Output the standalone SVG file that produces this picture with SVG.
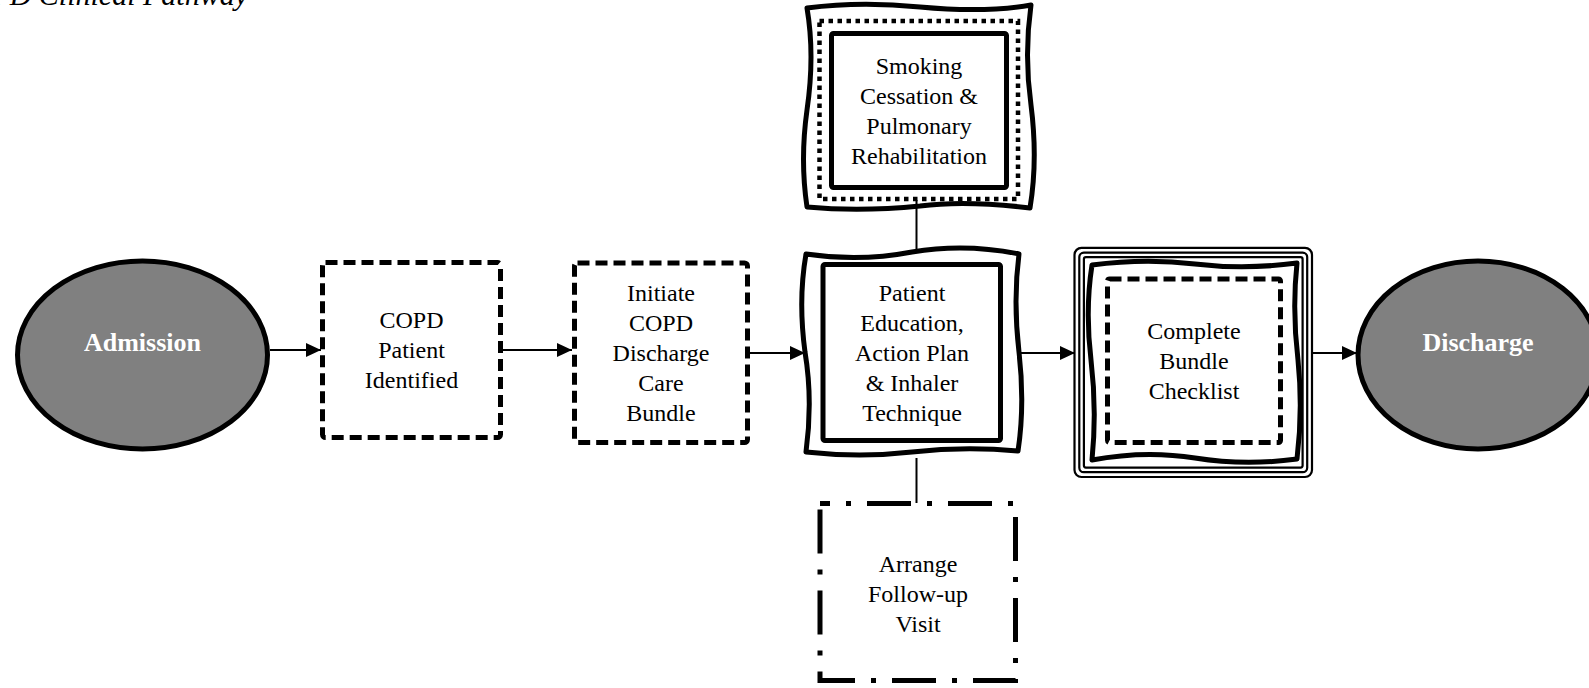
<svg xmlns="http://www.w3.org/2000/svg" width="1589" height="688" viewBox="0 0 1589 688">
<defs>
<style>
.lbl{font-family:"Liberation Serif","Times New Roman",serif;font-size:24px;fill:#000;text-anchor:middle}
.term{font-family:"Liberation Serif","Times New Roman",serif;font-size:26px;font-weight:bold;fill:#fff;text-anchor:middle}
.title{font-family:"Liberation Serif","Times New Roman",serif;font-size:30px;font-style:italic;fill:#000;text-anchor:end}
.ell{fill:#808080;stroke:#000;stroke-width:5}
.dash{fill:#fff;stroke:#000;stroke-width:5;stroke-dasharray:12 6}
.solid{fill:none;stroke:#000;stroke-width:5}
.dotted{fill:none;stroke:#000;stroke-width:4.5;stroke-dasharray:4.5 4.5}
.dashdot{fill:#fff;stroke:#000;stroke-width:5;stroke-dasharray:44 16 5 16;stroke-dashoffset:34}
.wavy{fill:#fff;stroke:#000;stroke-width:5;stroke-linejoin:round}
.thin{fill:none;stroke:#000;stroke-width:2.2}
.conn{stroke:#000;stroke-width:2;fill:none}
</style>
<marker id="arr" markerUnits="userSpaceOnUse" markerWidth="15" markerHeight="14" refX="15" refY="7" orient="auto"><path d="M0,0 L15,7 L0,14 Z" fill="#000"/></marker>
</defs>
<rect x="0" y="0" width="1589" height="688" fill="#fff"/>
<text class="title" x="248" y="5">COPD Clinical Pathway</text>

<g id="admission">
<ellipse class="ell" cx="142.5" cy="355" rx="125" ry="94"/>
<text class="term" x="142.5" y="351">Admission</text>
</g>

<g id="copd-identified">
<rect class="dash" x="322.5" y="262.5" width="178" height="175" rx="3"/>
<text class="lbl"><tspan x="411.5" y="328">COPD</tspan><tspan x="411.5" y="358">Patient</tspan><tspan x="411.5" y="388">Identified</tspan></text>
</g>

<g id="initiate-bundle">
<rect class="dash" x="574.5" y="263" width="173" height="179.5" rx="3"/>
<text class="lbl"><tspan x="661" y="301">Initiate</tspan><tspan x="661" y="331">COPD</tspan><tspan x="661" y="361">Discharge</tspan><tspan x="661" y="391">Care</tspan><tspan x="661" y="421">Bundle</tspan></text>
</g>

<g id="smoking-rehab">
<path class="wavy" d="M807 8 Q860 1 920 7 Q985 13 1031 5 Q1024 55 1031 105 Q1038 160 1030 208 Q965 200 920 206 Q860 212 807 207 Q800 160 807 110 Q815 55 807 8 Z"/>
<rect class="dotted" x="819.5" y="21" width="198.5" height="178"/>
<rect class="solid" x="831.5" y="33.5" width="175" height="154" rx="2"/>
<text class="lbl"><tspan x="919" y="73.5">Smoking</tspan><tspan x="919" y="103.5">Cessation &amp;</tspan><tspan x="919" y="133.5">Pulmonary</tspan><tspan x="919" y="163.5">Rehabilitation</tspan></text>
</g>

<g id="patient-education">
<path class="wavy" d="M806 254 Q860 262 912 252 Q965 243 1019 254 Q1013 300 1019 352 Q1025 405 1018 451 Q965 446 912 452 Q860 458 806 452 Q813 400 805 352 Q798 300 806 254 Z"/>
<rect class="solid" x="823" y="264.5" width="177.5" height="176" rx="2"/>
<text class="lbl"><tspan x="912" y="300.5">Patient</tspan><tspan x="912" y="330.5">Education,</tspan><tspan x="912" y="360.5">Action Plan</tspan><tspan x="912" y="390.5">&amp; Inhaler</tspan><tspan x="912" y="420.5">Technique</tspan></text>
</g>

<g id="follow-up">
<rect class="dashdot" x="820" y="503.5" width="195.5" height="177"/>
<text class="lbl"><tspan x="918" y="572">Arrange</tspan><tspan x="918" y="602">Follow-up</tspan><tspan x="918" y="632">Visit</tspan></text>
</g>

<g id="complete-checklist">
<rect class="thin" x="1074.5" y="247.8" width="237.5" height="229.2" rx="7"/>
<rect class="thin" x="1079.3" y="252.6" width="227.9" height="219.6" rx="4.5"/>
<rect class="thin" x="1083.9" y="257.2" width="218.7" height="210.4" rx="2"/>
<path class="wavy" d="M1092 265 Q1145 258 1195 264 Q1245 270 1297 263 Q1292 310 1298 360 Q1303 410 1297 459 Q1245 466 1195 458 Q1145 450 1092 460 Q1097 410 1091 360 Q1085 310 1092 265 Z"/>
<rect class="dash" x="1107.5" y="279" width="173" height="163.5" rx="2"/>
<text class="lbl"><tspan x="1194" y="339">Complete</tspan><tspan x="1194" y="369">Bundle</tspan><tspan x="1194" y="399">Checklist</tspan></text>
</g>

<g id="discharge">
<ellipse class="ell" cx="1478" cy="355" rx="120" ry="94"/>
<text class="term" x="1478" y="351">Discharge</text>
</g>

<g id="connectors">
<line class="conn" x1="270" y1="350" x2="321" y2="350" marker-end="url(#arr)"/>
<line class="conn" x1="503" y1="350" x2="572" y2="350" marker-end="url(#arr)"/>
<line class="conn" x1="750" y1="353" x2="805" y2="353" marker-end="url(#arr)"/>
<line class="conn" x1="1020" y1="353" x2="1075" y2="353" marker-end="url(#arr)"/>
<line class="conn" x1="1313" y1="353" x2="1357" y2="353" marker-end="url(#arr)"/>
<line class="conn" x1="916.5" y1="200" x2="916.5" y2="251"/>
<line class="conn" x1="916.5" y1="458" x2="916.5" y2="503"/>
</g>
</svg>
